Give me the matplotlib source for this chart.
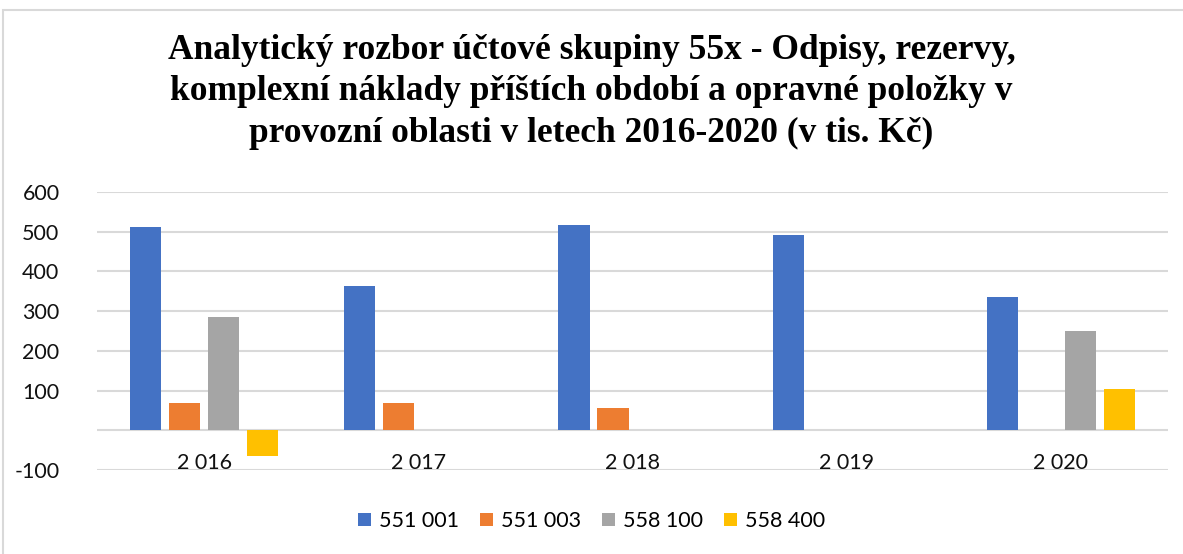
import matplotlib
matplotlib.use("Agg")
import matplotlib.pyplot as plt
from matplotlib.patches import Rectangle
import numpy as np

categories = ["2 016", "2 017", "2 018", "2 019", "2 020"]
series_names = ["551 001", "551 003", "558 100", "558 400"]
s551001 = [512, 364, 518, 492, 335]
s551003 = [68, 68, 55, 0, 0]
s558100 = [285, 0, 0, 0, 251]
s558400 = [-64, 0, 0, 0, 104]
colors = ["#4472C4", "#ED7D31", "#A5A5A5", "#FFC000"]
yticks = [-100, 0, 100, 200, 300, 400, 500, 600]
ytick_labels = ["-100", "", "100", "200", "300", "400", "500", "600"]
title = ("Analytický rozbor účtové skupiny 55x - Odpisy, rezervy,\n"
         "komplexní náklady příštích období a opravné položky v\n"
         "provozní oblasti v letech 2016-2020 (v tis. Kč)")

W, H = 1183, 554
fig = plt.figure(figsize=(W / 100, H / 100), dpi=100)
fig.patch.set_facecolor("white")

# chart frame
fig.patches.append(Rectangle((3 / W, -0.1), 1.2, 1 - 10 / H + 0.1,
                             transform=fig.transFigure, fill=False,
                             edgecolor="#d9d9d9", linewidth=1.5))

ax = fig.add_axes([97 / W, 1 - 470 / H, (1168 - 97) / W, (470 - 192) / H])
x = np.arange(len(categories))
data = [s551001, s551003, s558100, s558400]
step = 0.182
width = 0.145
for i, (vals, c, name) in enumerate(zip(data, colors, series_names)):
    ax.bar(x + (i - 1.5) * step, vals, width, color=c, label=name, zorder=3)

ax.set_xlim(-0.5, len(categories) - 0.5)
ax.set_ylim(-100, 600)
ax.set_yticks(yticks)
ax.set_yticklabels(ytick_labels, fontfamily="Lato", fontsize=15.5, color="#111111")
ax.tick_params(axis="y", length=0, pad=27)
ax.set_xticks([])
for xi, lab in zip(x, categories):
    ax.text(xi, 0, lab, ha="center", va="center", fontfamily="Lato",
            fontsize=15.5, color="#111111",
            transform=ax.transData + matplotlib.transforms.ScaledTranslation(0, -0.33, fig.dpi_scale_trans))
for yv in yticks:
    ax.axhline(yv, color="#d9d9d9", linewidth=1.5, zorder=1)
for s in ax.spines.values():
    s.set_visible(False)

fig.text(0.5, 1 - 92 / H, title, ha="center", va="center", fontfamily="Liberation Serif",
         fontweight="bold", fontsize=25.5, linespacing=1.33, color="black")

leg = fig.legend(loc="center", bbox_to_anchor=(0.5, 1 - 521 / H), ncol=4, frameon=False,
                 prop={"family": "Lato", "size": 15.5}, handlelength=0.6, handleheight=0.6,
                 handletextpad=0.35, columnspacing=1.0)

fig.savefig("out.png", dpi=100)
